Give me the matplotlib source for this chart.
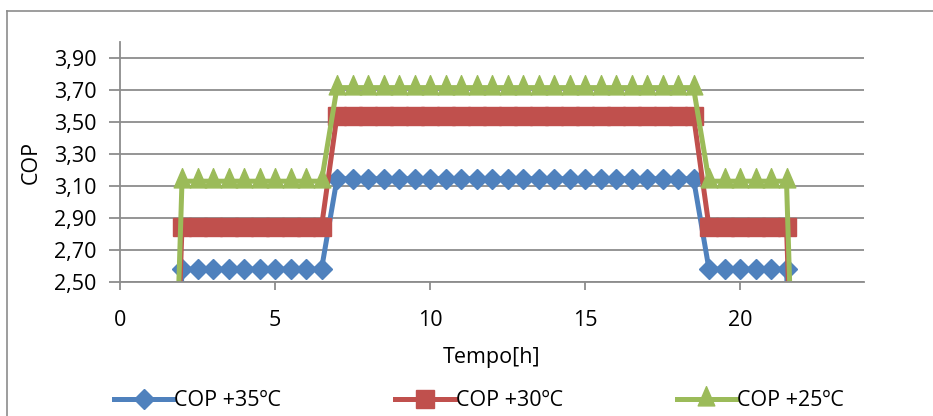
import matplotlib
matplotlib.use("Agg")
import matplotlib.pyplot as plt
from matplotlib.lines import Line2D
from matplotlib.path import Path
from matplotlib.ticker import FixedLocator, FuncFormatter

# Hour of day for each sample (half-hour steps)
hours = [1.5, 2.0, 2.5, 3.0, 3.5, 4.0, 4.5, 5.0, 5.5, 6.0, 6.5,
         7.0, 7.5, 8.0, 8.5, 9.0, 9.5, 10.0, 10.5, 11.0, 11.5, 12.0,
         12.5, 13.0, 13.5, 14.0, 14.5, 15.0, 15.5, 16.0, 16.5, 17.0,
         17.5, 18.0, 18.5, 19.0, 19.5, 20.0, 20.5, 21.0, 21.5, 22.0]

cop_35 = [0.0, 2.58, 2.58, 2.58, 2.58, 2.58, 2.58, 2.58, 2.58, 2.58, 2.58,
          3.145, 3.145, 3.145, 3.145, 3.145, 3.145, 3.145, 3.145, 3.145, 3.145, 3.145,
          3.145, 3.145, 3.145, 3.145, 3.145, 3.145, 3.145, 3.145, 3.145, 3.145,
          3.145, 3.145, 3.145, 2.58, 2.58, 2.58, 2.58, 2.58, 2.58, 0.0]

cop_30 = [0.0, 2.845, 2.845, 2.845, 2.845, 2.845, 2.845, 2.845, 2.845, 2.845, 2.845,
          3.54, 3.54, 3.54, 3.54, 3.54, 3.54, 3.54, 3.54, 3.54, 3.54, 3.54,
          3.54, 3.54, 3.54, 3.54, 3.54, 3.54, 3.54, 3.54, 3.54, 3.54,
          3.54, 3.54, 3.54, 2.845, 2.845, 2.845, 2.845, 2.845, 2.845, 0.0]

cop_25 = [0.0, 3.13, 3.13, 3.13, 3.13, 3.13, 3.13, 3.13, 3.13, 3.13, 3.13,
          3.715, 3.715, 3.715, 3.715, 3.715, 3.715, 3.715, 3.715, 3.715, 3.715, 3.715,
          3.715, 3.715, 3.715, 3.715, 3.715, 3.715, 3.715, 3.715, 3.715, 3.715,
          3.715, 3.715, 3.715, 3.13, 3.13, 3.13, 3.13, 3.13, 3.13, 0.0]

series_labels = ["COP +35ºC", "COP +30ºC", "COP +25ºC"]
y_ticks = [2.5, 2.7, 2.9, 3.1, 3.3, 3.5, 3.7, 3.9]
x_ticks = [0, 5, 10, 15, 20]

plt.rcParams["font.family"] = ["Open Sans", "DejaVu Sans"]
FS = 15.5

BLUE = "#4F81BD"
RED = "#C0504D"
GREEN = "#9BBB59"
GRID = "#8C8C8C"

# triangle centred on its centroid
tri = Path([(0, 2 / 3), (-0.43, -1 / 3), (0.43, -1 / 3), (0, 2 / 3)],
           [Path.MOVETO, Path.LINETO, Path.LINETO, Path.CLOSEPOLY])

styles = [
    dict(color=BLUE, marker="D", ms=10.2),
    dict(color=RED, marker="s", ms=13.0),
    dict(color=GREEN, marker=tri, ms=18.5),
]

fig = plt.figure(figsize=(9.33, 4.16), dpi=100)
ax = fig.add_axes([120 / 933, 1 - 282 / 416, (864 - 120) / 933, (282 - 42) / 416])

for vals, st, lab in zip([cop_35, cop_30, cop_25], styles, series_labels):
    ax.plot(hours, vals, color=st["color"], lw=3.6, marker=st["marker"],
            ms=st["ms"], mec=st["color"], mfc=st["color"], mew=1,
            label=lab, solid_joinstyle="miter")

ax.set_xlim(0, 24)
ax.set_ylim(2.5, 4.0)
ax.xaxis.set_major_locator(FixedLocator(x_ticks))
ax.yaxis.set_major_locator(FixedLocator(y_ticks))
ax.yaxis.set_major_formatter(FuncFormatter(lambda v, _: f"{v:.2f}".replace(".", ",")))

ax.grid(axis="y", color=GRID, lw=1.3)
ax.set_axisbelow(True)
for s in ("top", "right"):
    ax.spines[s].set_visible(False)
for s in ("left", "bottom"):
    ax.spines[s].set_color(GRID)
    ax.spines[s].set_linewidth(1.3)

ax.tick_params(axis="y", direction="out", length=8, width=1.3, color=GRID,
               labelsize=FS, pad=9)
ax.tick_params(axis="x", direction="out", length=6, width=1.3, color=GRID,
               labelsize=FS, pad=14)

ax.set_xlabel("Tempo[h]", fontsize=FS, labelpad=12)
ax.set_ylabel("COP", fontsize=FS, labelpad=9)

handles = [Line2D([], [], color=st["color"], lw=3.6, marker=st["marker"],
                  ms=st["ms"], mec=st["color"], mfc=st["color"], mew=1)
           for st in styles]
fig.legend(handles, series_labels, loc="center left", ncol=3,
           bbox_to_anchor=(114 / 933, 1 - 401 / 416), frameon=False,
           fontsize=FS, handlelength=2.75, handletextpad=0.05,
           columnspacing=5.3, borderaxespad=0, borderpad=0)

# chart area border
fig.add_artist(Line2D([7 / 933, 7 / 933], [0, 1 - 11 / 416],
                      transform=fig.transFigure, color=GRID, lw=1.2))
fig.add_artist(Line2D([7 / 933, 1], [1 - 11 / 416, 1 - 11 / 416],
                      transform=fig.transFigure, color=GRID, lw=1.2))

fig.savefig("out.png", dpi=100)
